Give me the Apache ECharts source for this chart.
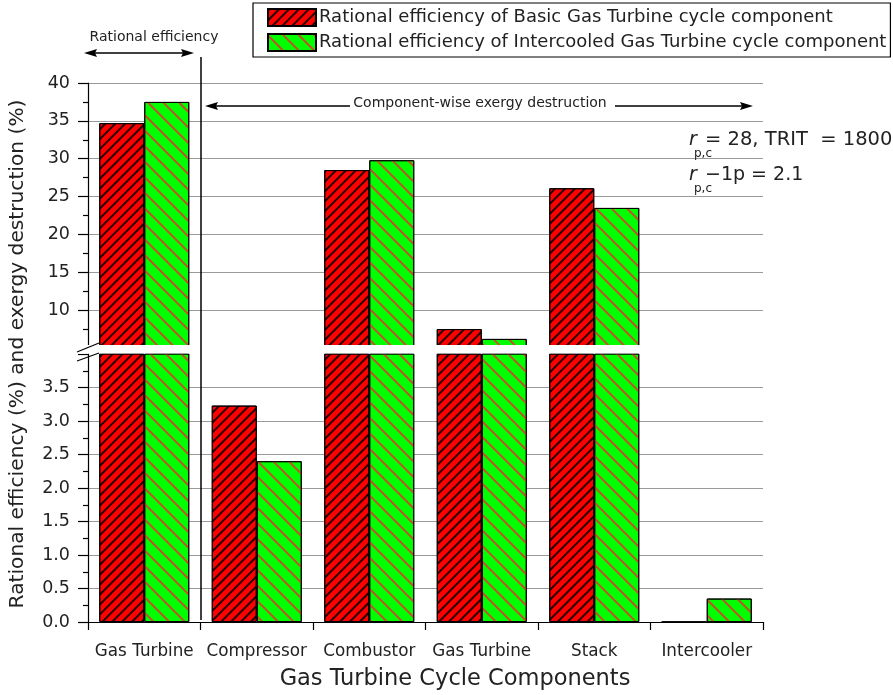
<!DOCTYPE html>
<html><head><meta charset="utf-8">
<script src="https://cdn.jsdelivr.net/npm/echarts@6/dist/echarts.min.js"></script>
<style>html,body{margin:0;padding:0;background:#fff}#c{width:893px;height:695px}</style>
</head><body><div id="c"></div>
<script>
const categories = ['Gas Turbine', 'Compressor', 'Combustor', 'Gas Turbine', 'Stack', 'Intercooler'];
const basicGT = [34.7, 3.23, 28.5, 7.5, 26.1, 0];
const intercooledGT = [37.5, 2.40, 29.8, 6.2, 23.5, 0.35];
const seriesNames = ['Rational efficiency of Basic Gas Turbine cycle component',
                     'Rational efficiency of Intercooled Gas Turbine cycle component'];
const upperTicks = [10, 15, 20, 25, 30, 35, 40];
const lowerTicks = [0, 0.5, 1, 1.5, 2, 2.5, 3, 3.5];

const FONT = "'DejaVu Sans', 'Liberation Sans', Arial, sans-serif";
const TXT = '#222';
const chart = echarts.init(document.getElementById('c'), null, {renderer: 'canvas'});

const redStyle = {
  color: '#ff0000', borderColor: '#000', borderWidth: 1,
  decal: {symbol: 'rect', symbolSize: 1, dashArrayX: [1, 0], dashArrayY: [1.5, 4.5], rotation: -Math.PI / 4, color: 'rgba(0,0,0,0.85)'}
};
const greenStyle = {
  color: '#00ff00', borderColor: '#000', borderWidth: 1,
  decal: {symbol: 'rect', symbolSize: 1, dashArrayX: [1, 0], dashArrayY: [1.6, 8.4], rotation: Math.PI / 4, color: '#c0522a'}
};

const upperMin = 5;
const upperData = arr => arr.map(v => v > upperMin ? v : '-');

const axisCommonY = {
  type: 'value',
  axisLine: {show: true, lineStyle: {color: '#000', width: 1.2}},
  axisTick: {show: true, inside: false, length: 10, lineStyle: {color: '#000', width: 1.2}},
  minorTick: {show: true, splitNumber: 2, length: 5, lineStyle: {color: '#000', width: 1.2}},
  splitLine: {show: true, lineStyle: {color: '#9a9a9a', width: 1.2}},
  axisLabel: {fontFamily: FONT, fontSize: 17.5, color: TXT, margin: 18}
};

const option = {
  animation: false,
  backgroundColor: '#fff',
  legend: {
    orient: 'vertical', left: 253, top: 3,
    itemWidth: 48, itemHeight: 17, itemGap: 6,
    padding: [5, 4, 5, 14],
    borderColor: '#000', borderWidth: 1.2,
    icon: 'rect',
    textStyle: {fontFamily: FONT, fontSize: 18, color: TXT, padding: [0, 0, 0, -2]},
    data: seriesNames
  },
  grid: [
    {left: 88, right: 130, top: 83, height: 265},
    {left: 88, right: 130, top: 354, height: 268}
  ],
  xAxis: [
    {type: 'category', gridIndex: 0, data: categories, show: false, boundaryGap: true},
    {type: 'category', gridIndex: 1, data: categories, boundaryGap: true,
     axisLine: {lineStyle: {color: '#000', width: 1.2}},
     axisTick: {show: true, alignWithLabel: false, length: 8, inside: false, lineStyle: {color: '#000', width: 1.2}},
     axisLabel: {fontFamily: FONT, fontSize: 16.8, color: TXT, margin: 21, interval: 0}
    }
  ],
  yAxis: [
    Object.assign({}, axisCommonY, {gridIndex: 0, min: upperMin, max: upperTicks[upperTicks.length - 1], interval: 5,
      axisLabel: Object.assign({}, axisCommonY.axisLabel, {showMinLabel: false,
        formatter: v => upperTicks.indexOf(v) >= 0 ? String(v) : ''}),
      splitLine: Object.assign({}, axisCommonY.splitLine, {showMinLine: false})}),
    Object.assign({}, axisCommonY, {gridIndex: 1, min: 0, max: 4, interval: 0.5,
      axisLabel: Object.assign({}, axisCommonY.axisLabel, {showMaxLabel: false,
        formatter: v => lowerTicks.indexOf(v) >= 0 ? v.toFixed(1) : ''}),
      splitLine: Object.assign({}, axisCommonY.splitLine, {showMaxLine: false})})
  ],
  series: [
    {name: seriesNames[0], type: 'bar', xAxisIndex: 0, yAxisIndex: 0, data: upperData(basicGT),
     barGap: '0%', barCategoryGap: '20%', itemStyle: redStyle, clip: true},
    {name: seriesNames[1], type: 'bar', xAxisIndex: 0, yAxisIndex: 0, data: upperData(intercooledGT),
     barGap: '0%', barCategoryGap: '20%', itemStyle: greenStyle, clip: true},
    {name: seriesNames[0], type: 'bar', xAxisIndex: 1, yAxisIndex: 1, data: basicGT,
     barGap: '0%', barCategoryGap: '20%', itemStyle: redStyle, clip: true},
    {name: seriesNames[1], type: 'bar', xAxisIndex: 1, yAxisIndex: 1, data: intercooledGT,
     barGap: '0%', barCategoryGap: '20%', itemStyle: greenStyle, clip: true}
  ],
  graphic: [
    // break gap
    {type: 'rect', z: 99, shape: {x: 70, y: 345, width: 694, height: 8.5}, style: {fill: '#fff'}},
    {type: 'line', z: 100, shape: {x1: 77, y1: 352, x2: 99, y2: 343}, style: {stroke: '#000', lineWidth: 1.2}},
    {type: 'line', z: 100, shape: {x1: 77, y1: 361, x2: 99, y2: 353}, style: {stroke: '#000', lineWidth: 1.2}},
    // divider
    {type: 'line', z: 100, shape: {x1: 201, y1: 57, x2: 201, y2: 620}, style: {stroke: '#000', lineWidth: 1.5}},
    // rational efficiency annotation
    {type: 'text', z: 100, x: 154, y: 37, style: {text: 'Rational efficiency', font: '14px ' + FONT, fill: TXT, align: 'center', verticalAlign: 'middle'}},
    {type: 'line', z: 100, shape: {x1: 92, y1: 53, x2: 186, y2: 53}, style: {stroke: '#000', lineWidth: 1.5}},
    {type: 'polygon', z: 100, shape: {points: [[84, 53], [97, 49], [95, 53], [97, 57]]}, style: {fill: '#000'}},
    {type: 'polygon', z: 100, shape: {points: [[194, 53], [181, 49], [183, 53], [181, 57]]}, style: {fill: '#000'}},
    // component-wise annotation
    {type: 'text', z: 100, x: 480, y: 103, style: {text: 'Component-wise exergy destruction', font: '14px ' + FONT, fill: TXT, align: 'center', verticalAlign: 'middle'}},
    {type: 'line', z: 100, shape: {x1: 212, y1: 106, x2: 350, y2: 106}, style: {stroke: '#000', lineWidth: 1.5}},
    {type: 'line', z: 100, shape: {x1: 615, y1: 106, x2: 746, y2: 106}, style: {stroke: '#000', lineWidth: 1.5}},
    {type: 'polygon', z: 100, shape: {points: [[205, 106], [218, 102], [216, 106], [218, 110]]}, style: {fill: '#000'}},
    {type: 'polygon', z: 100, shape: {points: [[753, 106], [740, 102], [742, 106], [740, 110]]}, style: {fill: '#000'}},
    // axis titles
    {type: 'text', z: 100, x: 18, y: 354, rotation: Math.PI / 2, style: {text: 'Rational efficiency (%) and exergy destruction (%)', font: '20.2px ' + FONT, fill: TXT, align: 'center', verticalAlign: 'middle'}},
    {type: 'text', z: 100, x: 455, y: 679, style: {text: 'Gas Turbine Cycle Components', font: '22.5px ' + FONT, fill: TXT, align: 'center', verticalAlign: 'middle'}},
    // right annotations
    {type: 'text', z: 100, x: 689, y: 140, style: {text: 'r', font: 'italic 19px ' + FONT, fill: TXT, align: 'left', verticalAlign: 'middle'}},
    {type: 'text', z: 100, x: 694, y: 154, style: {text: 'p,c', font: '12px ' + FONT, fill: TXT, align: 'left', verticalAlign: 'middle'}},
    {type: 'text', z: 100, x: 705, y: 140, style: {text: '= 28, TRIT  = 1800', font: '19.5px ' + FONT, fill: TXT, align: 'left', verticalAlign: 'middle'}},
    {type: 'text', z: 100, x: 689, y: 175, style: {text: 'r', font: 'italic 19px ' + FONT, fill: TXT, align: 'left', verticalAlign: 'middle'}},
    {type: 'text', z: 100, x: 694, y: 189, style: {text: 'p,c', font: '12px ' + FONT, fill: TXT, align: 'left', verticalAlign: 'middle'}},
    {type: 'text', z: 100, x: 705, y: 175, style: {text: '\u22121p = 2.1', font: '19px ' + FONT, fill: TXT, align: 'left', verticalAlign: 'middle'}}
  ]
};
chart.setOption(option);
</script></body></html>
